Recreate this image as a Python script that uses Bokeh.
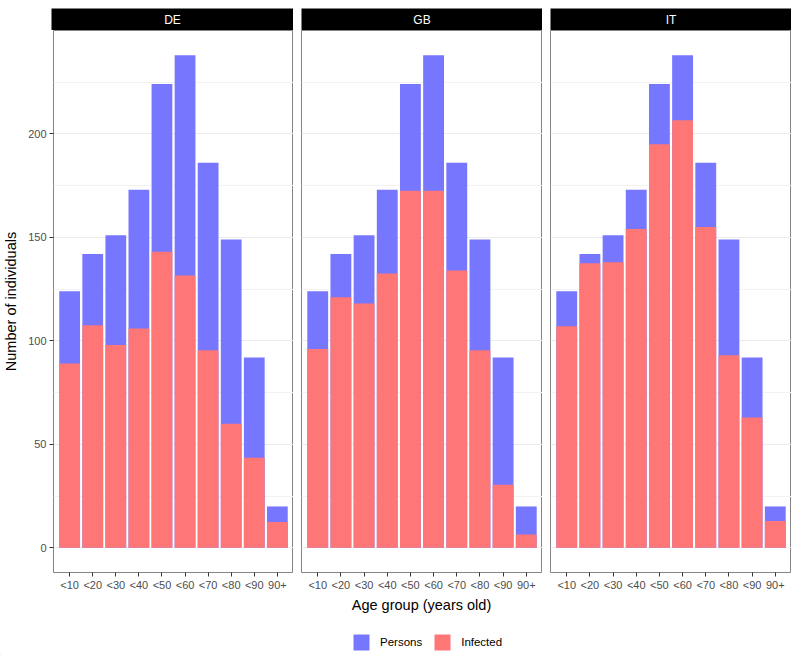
from bokeh.plotting import figure
from bokeh.layouts import column, row
from bokeh.models import FactorRange, Range1d, FixedTicker, Label, Legend, LegendItem, ColumnDataSource
from bokeh.embed import file_html
from bokeh.resources import INLINE
from bokeh.core.properties import value

# ---------------- data ----------------
countries = ["DE", "GB", "IT"]
age_groups = ["<10", "<20", "<30", "<40", "<50", "<60", "<70", "<80", "<90", "90+"]
persons_de = [124, 142, 151, 173, 224, 238, 186, 149, 92, 20]
persons_gb = [124, 142, 151, 173, 224, 238, 186, 149, 92, 20]
persons_it = [124, 142, 151, 173, 224, 238, 186, 149, 92, 20]
infected_de = [89, 107.5, 98, 106, 143, 131.5, 95.5, 60, 43.5, 12.5]
infected_gb = [96, 121, 118, 132.5, 172.5, 172.5, 134, 95.5, 30.5, 6.5]
infected_it = [107, 137.5, 138, 154, 195, 206.5, 155, 93, 63, 13]
y_ticks = [0, 50, 100, 150, 200]
y_minor_ticks = [25, 75, 125, 175, 225]
series_labels = ["Persons", "Infected"]
x_title = "Age group (years old)"
y_title = "Number of individuals"

persons = {"DE": persons_de, "GB": persons_gb, "IT": persons_it}
infected = {"DE": infected_de, "GB": infected_gb, "IT": infected_it}

# ---------------- style ----------------
FONT = "Liberation Sans"
BLUE = "#7676FF"
RED = "#FF7676"
TICK_COL = "#333333"
LAB_COL = "#4D4D4D"
BORDER = "#858585"

ymax = max(max(v) for v in persons.values())
pad = ymax * 0.05
y_lo, y_hi = -pad, ymax + pad

widths = [293, 249, 249]
lefts = [51, 8, 8]
PANEL_H = 563
STRIP_H = 30

strips = []
panels = []
for i, c in enumerate(countries):
    # strip header
    s = figure(width=widths[i], height=STRIP_H, x_range=Range1d(0, 1), y_range=Range1d(0, 1),
               x_axis_location=None, y_axis_location=None, toolbar_location=None,
               output_backend="svg", min_border_left=lefts[i], min_border_right=0,
               min_border_top=8, min_border_bottom=0,
               background_fill_color="black", border_fill_color="white", outline_line_color=None)
    s.grid.visible = False
    s.text(x=[0.5], y=[0.5], text=[c], text_align="center", text_baseline="middle",
           text_color="white", text_font=value(FONT), text_font_size="12px")
    strips.append(s)

    # panel
    p = figure(width=widths[i], height=PANEL_H,
               x_range=FactorRange(*age_groups, range_padding=0.2, range_padding_units="absolute"),
               y_range=Range1d(y_lo, y_hi),
               y_axis_location="left" if i == 0 else None,
               toolbar_location=None, output_backend="svg",
               min_border_left=lefts[i], min_border_right=0, min_border_top=0, min_border_bottom=20,
               background_fill_color="white", border_fill_color="white",
               outline_line_color=BORDER, outline_line_width=1)
    src = ColumnDataSource(dict(age=age_groups, persons=persons[c], infected=infected[c]))
    p.vbar(x="age", top="persons", bottom=0, width=0.9, source=src, fill_color=BLUE, line_color=None)
    p.vbar(x="age", top="infected", bottom=0, width=0.9, source=src, fill_color=RED, line_color=None)

    p.xgrid.visible = False
    p.ygrid.ticker = FixedTicker(ticks=y_ticks, minor_ticks=y_minor_ticks)
    p.ygrid.grid_line_color = "#EBEBEB"
    p.ygrid.grid_line_width = 1
    p.ygrid.minor_grid_line_color = "#F2F2F2"
    p.ygrid.minor_grid_line_width = 1

    p.xaxis.axis_line_color = None
    p.xaxis.major_tick_in = 0
    p.xaxis.major_tick_out = 4
    p.xaxis.major_tick_line_color = TICK_COL
    p.xaxis.minor_tick_line_color = None
    p.xaxis.major_label_standoff = 2
    p.xaxis.major_label_text_font = FONT
    p.xaxis.major_label_text_font_size = "11px"
    p.xaxis.major_label_text_color = LAB_COL

    if i == 0:
        p.yaxis.ticker = FixedTicker(ticks=y_ticks, minor_ticks=y_minor_ticks)
        p.yaxis.axis_line_color = None
        p.yaxis.major_tick_in = 0
        p.yaxis.major_tick_out = 4
        p.yaxis.major_tick_line_color = TICK_COL
        p.yaxis.minor_tick_line_color = None
        p.yaxis.major_label_standoff = 3
        p.yaxis.major_label_text_font = FONT
        p.yaxis.major_label_text_font_size = "11px"
        p.yaxis.major_label_text_color = LAB_COL
        p.yaxis.axis_label = y_title
        p.yaxis.axis_label_standoff = 6
        p.yaxis.axis_label_text_font = FONT
        p.yaxis.axis_label_text_font_size = "14.5px"
        p.yaxis.axis_label_text_font_style = "normal"
        p.yaxis.axis_label_text_color = "black"
    panels.append(p)

# bottom: x title and legend
TOTAL_W = sum(widths)
BOT_H = 62
pb = figure(width=TOTAL_W, height=BOT_H, x_range=Range1d(0, TOTAL_W), y_range=Range1d(0, BOT_H),
            x_axis_location=None, y_axis_location=None, toolbar_location=None,
            output_backend="svg", min_border_left=0, min_border_right=0,
            min_border_top=0, min_border_bottom=0, outline_line_color=None,
            background_fill_color="white", border_fill_color="white")
pb.grid.visible = False
pb.add_layout(Label(x=421, y=BOT_H - 11, text=x_title, text_align="center", text_baseline="middle",
                    text_font=FONT, text_font_size="14.5px", text_color="black"))
# legend-only renderers, placed outside the visible range
r1 = pb.vbar(x=[-1000], top=[1], width=1, fill_color=BLUE, line_color=None)
r2 = pb.vbar(x=[-1000], top=[1], width=1, fill_color=RED, line_color=None)
legend = Legend(items=[LegendItem(label=series_labels[0], renderers=[r1]),
                       LegendItem(label=series_labels[1], renderers=[r2])],
                orientation="horizontal", location=(351, 3),
                glyph_width=20, glyph_height=20, label_standoff=9, spacing=10,
                padding=0, margin=0, label_width=20, label_height=20,
                border_line_color=None, background_fill_alpha=0,
                label_text_font=FONT, label_text_font_size="11.5px", label_text_color="black")
pb.add_layout(legend)

layout = column(row(*strips), row(*panels), pb)
open("out.html", "w").write(file_html(layout, INLINE))
